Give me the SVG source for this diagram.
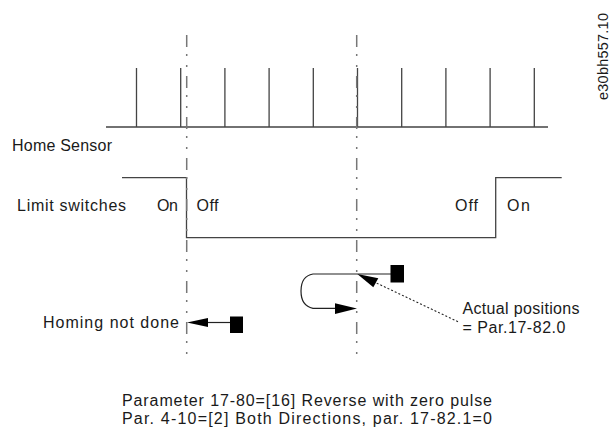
<svg xmlns="http://www.w3.org/2000/svg" width="611" height="434" viewBox="0 0 611 434">
<style>
text{font-family:"Liberation Sans","Open Sans",sans-serif;font-size:16px;fill:#1a1a1a}
.sig{fill:none;stroke:#444;stroke-width:1.3}
.dd{fill:none;stroke:#777;stroke-width:1.5;stroke-dasharray:12 7 2 9 2 9}
.ln{fill:none;stroke:#222;stroke-width:1.2}
.blk{fill:#000}
</style>
<rect width="611" height="434" fill="#fff"/>
<g id="home-sensor">
<path class="sig" d="M106,127 H548 M136.5,68 V127 M180.7,68 V127 M224.9,68 V127 M269.1,68 V127 M313.3,68 V127 M357.5,68 V127 M401.7,68 V127 M445.9,68 V127 M490.1,68 V127 M534.3,68 V127"/>
<text x="12" y="151" textLength="100" lengthAdjust="spacing">Home Sensor</text>
</g>
<g id="limit-switches">
<path class="sig" d="M122,177.7 H186.5 V237.7 H495.7 V177.7 H561.7"/>
<text x="17" y="211" textLength="109" lengthAdjust="spacing">Limit switches</text>
<text x="157" y="211" textLength="21" lengthAdjust="spacing">On</text>
<text x="196.5" y="211" textLength="22" lengthAdjust="spacing">Off</text>
<text x="455" y="211" textLength="23" lengthAdjust="spacing">Off</text>
<text x="507" y="211" textLength="23" lengthAdjust="spacing">On</text>
</g>
<g id="guides">
<line class="dd" x1="186.7" y1="35" x2="186.7" y2="360"/>
<line class="dd" x1="356.7" y1="35" x2="356.7" y2="360"/>
</g>
<g id="homing-not-done">
<text x="43" y="328" textLength="136" lengthAdjust="spacing">Homing not done</text>
</g>
<g id="actual-positions">
<text x="462.5" y="314" textLength="117" lengthAdjust="spacing">Actual positions</text>
<text x="462.5" y="333" textLength="103" lengthAdjust="spacing">= Par.17-82.0</text>
</g>
<g id="connectors">
<line class="ln" x1="205" y1="322.5" x2="231" y2="322.5"/>
<polygon class="blk" points="187,322.5 208,318 208,327"/>
<rect class="blk" x="230" y="316.5" width="13" height="16.5"/>
<path class="ln" d="M391,274 H313 Q301,276 301,291 Q301,306 313,308.3 H340"/>
<polygon class="blk" points="357,308.5 335,303.3 335,314"/>
<rect class="blk" x="390.5" y="265" width="13.5" height="17.5"/>
<line x1="458" y1="321.7" x2="376" y2="282.8" stroke="#222" stroke-width="1.1" stroke-dasharray="2 2"/>
<polygon class="blk" points="357.3,274 378.3,278.3 373.3,287.3"/>
</g>
<g id="caption">
<text x="122" y="406" textLength="370" lengthAdjust="spacing">Parameter 17-80=[16] Reverse with zero pulse</text>
<text x="122" y="424" textLength="370" lengthAdjust="spacing">Par. 4-10=[2] Both Directions, par. 17-82.1=0</text>
</g>
<text x="607.5" y="100" transform="rotate(-90 607.5 100)" style="font-size:14.5px" textLength="87" lengthAdjust="spacing">e30bh557.10</text>
</svg>
